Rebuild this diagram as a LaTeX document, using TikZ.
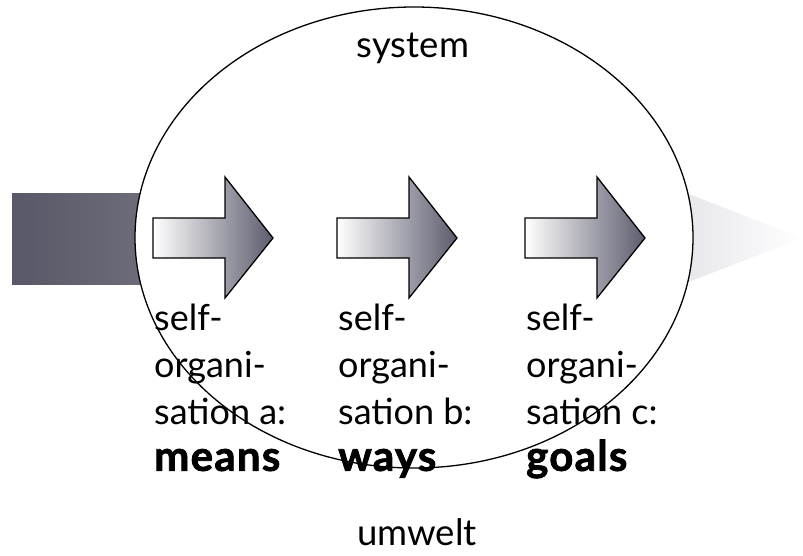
\documentclass[tikz,border=0pt]{standalone}
\usepackage{fontspec}
\setmainfont{Lato}[BoldFeatures={FakeBold=1.8, LetterSpace=3}]
\usetikzlibrary{shapes.geometric}
\tikzset{
  bigarrow/.style={draw=black, line width=1.3pt, line join=miter, left color=white, right color=arrowdark},
  lbl/.style={anchor=north west, align=left, inner sep=0pt, font=\fontsize{36}{46.7}\selectfont},
  captext/.style={inner sep=0pt, font=\fontsize{36.5}{40}\selectfont},
}
\newcommand{\keyword}[1]{{\fontsize{42}{46.7}\selectfont\bfseries #1}}
\definecolor{arrowdark}{HTML}{5C5C6E}
\definecolor{bardark}{HTML}{585868}
\definecolor{barlight}{HTML}{70707E}
\definecolor{fadegray}{HTML}{E2E2E8}
\begin{document}
\begin{tikzpicture}[x=1pt,y=-1pt]
\useasboundingbox (0,0) rectangle (803,555);
% incoming bar and outgoing fade
\shade[left color=bardark, right color=barlight] (12,193) rectangle (170,284);
\shade[left color=fadegray, right color=white] (660,183) -- (803,238) -- (660,293) -- cycle;
% system ellipse
\node[draw=black, line width=1.3pt, fill=white, ellipse, minimum width=558pt, minimum height=461pt, inner sep=0pt] (sys) at (414,237.5) {};
% process arrows
\foreach \x/\n in {153/a,337/b,525/c}{
  \path[bigarrow] (\x,218) -- (\x+72,218) -- (\x+72,177) -- (\x+120,238) -- (\x+72,298) -- (\x+72,258) -- (\x,258) -- cycle;
}
\node[captext, anchor=base] (system) at (413,57) {system};
\node[captext, anchor=base] (umwelt) at (417,545) {umwelt};
\node[lbl] (la) at (154,304) {self-\\organi-\\sation a:\\\keyword{means}};
\node[lbl] (lb) at (338,304) {self-\\organi-\\sation b:\\\keyword{ways}};
\node[lbl] (lc) at (526,304) {self-\\organi-\\sation c:\\\keyword{goals}};
\end{tikzpicture}
\end{document}
